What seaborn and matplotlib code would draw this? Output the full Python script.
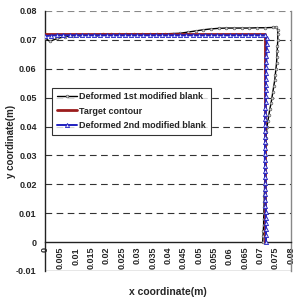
import matplotlib
matplotlib.use("Agg")
import matplotlib.pyplot as plt
import seaborn as sns
import numpy as np
import pandas as pd

# ---- data ----
# Deformed 1st modified blank
blk_x = [0.0000, 0.0016, 0.0040, 0.0065, 0.0090, 0.0115, 0.0140, 0.0165, 0.0190, 0.0215,
         0.0240, 0.0265, 0.0290, 0.0315, 0.0340, 0.0365, 0.0390, 0.0415, 0.0440, 0.0465,
         0.0490, 0.0515, 0.0540, 0.0565, 0.0590, 0.0615, 0.0640, 0.0665, 0.0690, 0.0715,
         0.0740, 0.0752,
         0.0757, 0.0757, 0.0757, 0.0756, 0.0755, 0.0754, 0.0753, 0.0751, 0.0749, 0.0747,
         0.0744, 0.0741, 0.0738, 0.0735, 0.0731, 0.0728, 0.0725, 0.0722, 0.0720, 0.0719,
         0.0718, 0.0717, 0.0717, 0.0716, 0.0716, 0.0715, 0.0715, 0.0714, 0.0714, 0.0713,
         0.0713, 0.0712, 0.0712, 0.0711, 0.0711, 0.0710, 0.0709, 0.0708]
blk_y = [0.0706, 0.0695, 0.0705, 0.0711, 0.0715, 0.0717, 0.0718, 0.0718, 0.0719, 0.0719,
         0.0719, 0.0720, 0.0720, 0.0720, 0.0720, 0.0721, 0.0721, 0.0722, 0.0723, 0.0727,
         0.0731, 0.0735, 0.0738, 0.0740, 0.0741, 0.0741, 0.0741, 0.0741, 0.0742, 0.0742,
         0.0743, 0.0744,
         0.0735, 0.0720, 0.0700, 0.0680, 0.0660, 0.0640, 0.0620, 0.0600, 0.0580, 0.0560,
         0.0540, 0.0520, 0.0500, 0.0480, 0.0460, 0.0440, 0.0420, 0.0400, 0.0380, 0.0360,
         0.0340, 0.0320, 0.0300, 0.0280, 0.0260, 0.0240, 0.0220, 0.0200, 0.0180, 0.0160,
         0.0140, 0.0120, 0.0100, 0.0080, 0.0060, 0.0040, 0.0020, 0.0000]

# Target contour
tgt_x = [0.0000, 0.0715, 0.0715]
tgt_y = [0.0722, 0.0722, 0.0000]

# Deformed 2nd modified blank
blu_x = [0.0000, 0.0020, 0.0040, 0.0060, 0.0080, 0.0100, 0.0120, 0.0140, 0.0160, 0.0180,
         0.0200, 0.0220, 0.0240, 0.0260, 0.0280, 0.0300, 0.0320, 0.0340, 0.0360, 0.0380,
         0.0400, 0.0420, 0.0440, 0.0460, 0.0480, 0.0500, 0.0520, 0.0540, 0.0560, 0.0580,
         0.0600, 0.0620, 0.0640, 0.0660, 0.0680, 0.0700, 0.0716,
         0.0721, 0.0721, 0.0721, 0.0720, 0.0720, 0.0719, 0.0719, 0.0718, 0.0718, 0.0719,
         0.0718, 0.0718, 0.0717, 0.0717, 0.0716, 0.0716, 0.0716, 0.0717, 0.0716, 0.0716,
         0.0715, 0.0715, 0.0716, 0.0716, 0.0716, 0.0717, 0.0717, 0.0716, 0.0717, 0.0717,
         0.0718, 0.0718, 0.0718, 0.0718, 0.0719, 0.0718]
blu_y = [0.0713, 0.0715, 0.0716, 0.0716, 0.0716, 0.0716, 0.0716, 0.0716, 0.0716, 0.0716,
         0.0716, 0.0716, 0.0716, 0.0716, 0.0716, 0.0716, 0.0716, 0.0716, 0.0716, 0.0716,
         0.0716, 0.0716, 0.0716, 0.0716, 0.0716, 0.0716, 0.0716, 0.0716, 0.0716, 0.0716,
         0.0716, 0.0716, 0.0716, 0.0716, 0.0716, 0.0716, 0.0716,
         0.0705, 0.0685, 0.0665, 0.0645, 0.0625, 0.0605, 0.0585, 0.0565, 0.0545, 0.0525,
         0.0505, 0.0485, 0.0465, 0.0445, 0.0425, 0.0405, 0.0385, 0.0365, 0.0345, 0.0325,
         0.0305, 0.0285, 0.0265, 0.0245, 0.0225, 0.0205, 0.0185, 0.0165, 0.0145, 0.0125,
         0.0105, 0.0085, 0.0065, 0.0045, 0.0025, 0.0000]

x_ticks = [0, 0.005, 0.01, 0.015, 0.02, 0.025, 0.03, 0.035, 0.04, 0.045, 0.05, 0.055,
           0.06, 0.065, 0.07, 0.075, 0.08]
x_tick_labels = ["0", "0.005", "0.01", "0.015", "0.02", "0.025", "0.03", "0.035", "0.04",
                 "0.045", "0.05", "0.055", "0.06", "0.065", "0.07", "0.075", "0.08"]
y_ticks = [-0.01, 0, 0.01, 0.02, 0.03, 0.04, 0.05, 0.06, 0.07, 0.08]
y_tick_labels = ["-0.01", "0", "0.01", "0.02", "0.03", "0.04", "0.05", "0.06", "0.07", "0.08"]
series_names = ["Deformed 1st modified blank", "Target contour", "Deformed 2nd modified blank"]

# ---- style ----
sns.set_style("white")
plt.rcParams['font.family'] = ['Liberation Sans Narrow', 'Liberation Sans', 'DejaVu Sans']
plt.rcParams['font.weight'] = 'bold'

fig = plt.figure(figsize=(2.96, 2.98), dpi=100)
ax = fig.add_axes([45/296, 1-271/298, 246/296, 260/298])

df1 = pd.DataFrame({"x": blk_x, "y": blk_y})
df2 = pd.DataFrame({"x": tgt_x, "y": tgt_y})
df3 = pd.DataFrame({"x": blu_x, "y": blu_y})

sns.lineplot(data=df1, x="x", y="y", sort=False, estimator=None, ax=ax, color="black",
             lw=1.0, marker="o", markersize=2.0, markerfacecolor="#d0d0d0",
             markeredgecolor="#444444", markeredgewidth=0.4, label=series_names[0], zorder=3)
sns.lineplot(data=df2, x="x", y="y", sort=False, estimator=None, ax=ax, color="#9B1C1C",
             lw=2.0, label=series_names[1], zorder=4)
sns.lineplot(data=df3, x="x", y="y", sort=False, estimator=None, ax=ax, color="#2020C0",
             lw=1.4, marker="^", markersize=3.0, markerfacecolor="#dde0ff",
             markeredgecolor="#2020C0", markeredgewidth=0.6, label=series_names[2], zorder=5)

ax.set_xlim(0, 0.08)
ax.set_ylim(-0.01, 0.08)

# grid: dashed horizontal lines
for yv in [0.01, 0.02, 0.03, 0.04, 0.05, 0.06, 0.07]:
    ax.axhline(yv, color="#333333", lw=0.8, ls=(0, (6, 4)), zorder=1)
ax.axhline(0.08, color="#888888", lw=0.8, ls=(0, (6, 4)), zorder=1)
ax.axhline(-0.01, color="#888888", lw=1.0, zorder=1)

ax.spines["top"].set_visible(False)
ax.spines["right"].set_color("#888888")
ax.spines["right"].set_linewidth(1.0)
ax.spines["left"].set_color("#222222")
ax.spines["left"].set_linewidth(1.0)
ax.spines["bottom"].set_position(("data", 0))
ax.spines["bottom"].set_color("#222222")
ax.spines["bottom"].set_linewidth(1.0)

ax.set_xticks(x_ticks)
ax.set_xticklabels(x_tick_labels, rotation=90, fontsize=6.5, fontweight="bold")
ax.set_yticks(y_ticks)
ax.set_yticklabels(y_tick_labels, fontsize=6.5, fontweight="bold")
ax.tick_params(axis="x", direction="inout", length=5, width=0.8, pad=1, color="#222222")
ax.tick_params(axis="y", direction="out", length=4, width=0.8, pad=2, color="#222222")

ax.set_xlabel("x coordinate(m)", fontsize=7.5, fontweight="bold")
ax.set_ylabel("y coordinate(m)", fontsize=7, fontweight="bold")
ax.xaxis.set_label_coords(0.5, -0.06)
ax.yaxis.set_label_coords(-0.118, 0.5)

leg = ax.legend(loc="upper left", bbox_to_anchor=(0.03, 0.705), fontsize=6.5, frameon=True,
                fancybox=False, borderpad=0.5, labelspacing=0.6, handlelength=2.2,
                handletextpad=0.3, borderaxespad=0)
leg.get_frame().set_edgecolor("black")
leg.get_frame().set_linewidth(0.8)
for t in leg.get_texts():
    t.set_fontweight("bold")

fig.savefig("out.png", dpi=100)
